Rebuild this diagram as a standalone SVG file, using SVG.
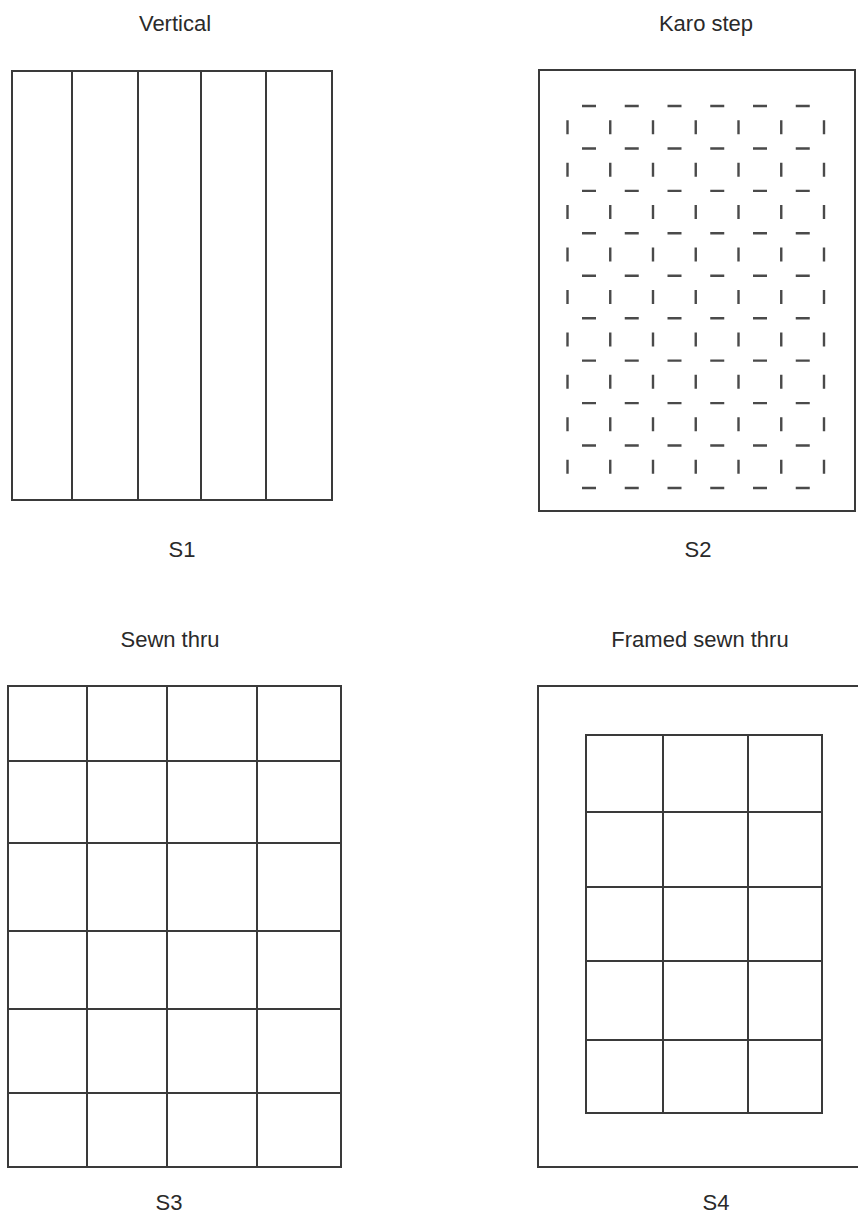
<svg xmlns="http://www.w3.org/2000/svg" width="858" height="1215" viewBox="0 0 858 1215">
<style>
.bg{fill:#ffffff}
.frame{fill:none;stroke:#3a3a3a;stroke-width:2}
.ln{stroke:#3a3a3a;stroke-width:2;fill:none}
.hd{stroke:#4a4a4a;stroke-width:2.4;stroke-dasharray:14 28.75}
.vd{stroke:#4a4a4a;stroke-width:2.4;stroke-dasharray:14 28.44}
.t{font-family:"Liberation Sans",Arial,sans-serif;font-size:22px;fill:#2a2a2a;text-anchor:middle}
</style>
<rect class="bg" x="0" y="0" width="858" height="1215"/>

<g id="s1">
<text class="t" x="175" y="31">Vertical</text>
<rect class="frame" x="12" y="71" width="320" height="429"/>
<path class="ln" d="M72 71V500M138 71V500M201 71V500M266 71V500"/>
<text class="t" x="182" y="557">S1</text>
</g>

<g id="s2">
<text class="t" x="706" y="31">Karo step</text>
<rect class="frame" x="539" y="70" width="316" height="441"/>
<g id="s2-h">
<line class="hd" x1="582" y1="106" x2="810" y2="106"/>
<line class="hd" x1="582" y1="148.44" x2="810" y2="148.44"/>
<line class="hd" x1="582" y1="190.88" x2="810" y2="190.88"/>
<line class="hd" x1="582" y1="233.32" x2="810" y2="233.32"/>
<line class="hd" x1="582" y1="275.76" x2="810" y2="275.76"/>
<line class="hd" x1="582" y1="318.2" x2="810" y2="318.2"/>
<line class="hd" x1="582" y1="360.64" x2="810" y2="360.64"/>
<line class="hd" x1="582" y1="403.08" x2="810" y2="403.08"/>
<line class="hd" x1="582" y1="445.52" x2="810" y2="445.52"/>
<line class="hd" x1="582" y1="487.96" x2="810" y2="487.96"/>
</g>
<g id="s2-v">
<line class="vd" x1="567.5" y1="120.2" x2="567.5" y2="474"/>
<line class="vd" x1="610.25" y1="120.2" x2="610.25" y2="474"/>
<line class="vd" x1="653" y1="120.2" x2="653" y2="474"/>
<line class="vd" x1="695.75" y1="120.2" x2="695.75" y2="474"/>
<line class="vd" x1="738.5" y1="120.2" x2="738.5" y2="474"/>
<line class="vd" x1="781.25" y1="120.2" x2="781.25" y2="474"/>
<line class="vd" x1="824" y1="120.2" x2="824" y2="474"/>
</g>
<text class="t" x="698" y="557">S2</text>
</g>

<g id="s3">
<text class="t" x="170" y="647">Sewn thru</text>
<rect class="frame" x="8" y="686" width="333" height="481"/>
<path class="ln" d="M87 686V1167M167 686V1167M257 686V1167M8 761H341M8 843H341M8 931H341M8 1009H341M8 1093H341"/>
<text class="t" x="169" y="1210">S3</text>
</g>

<g id="s4">
<text class="t" x="700" y="647">Framed sewn thru</text>
<rect class="frame" x="538" y="686" width="330" height="481"/>
<rect class="frame" x="586" y="735" width="236" height="378"/>
<path class="ln" d="M663 735V1113M748 735V1113M586 812H822M586 887H822M586 961H822M586 1040H822"/>
<text class="t" x="716" y="1210">S4</text>
</g>

<g id="connectors"></g>
</svg>
